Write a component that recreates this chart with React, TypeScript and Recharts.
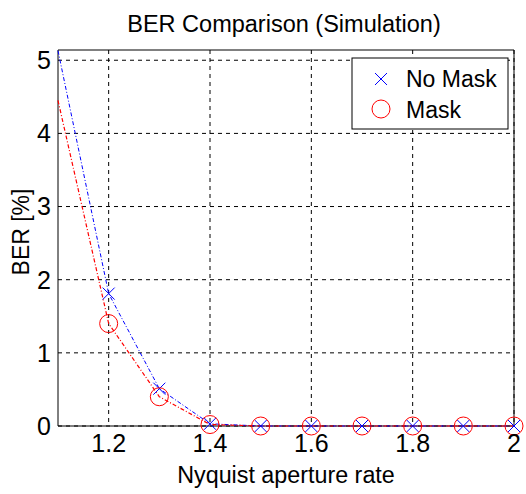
import React from 'react';
import { LineChart, Line, XAxis, YAxis, CartesianGrid, ReferenceArea } from 'recharts';

const rates = [1.1, 1.2, 1.3, 1.4, 1.5, 1.6, 1.7, 1.8, 1.9, 2.0];
const noMask = [5.13, 1.81, 0.51, 0.03, 0, 0, 0, 0, 0, 0];
const mask = [4.45, 1.40, 0.40, 0.02, 0, 0, 0, 0, 0, 0];
const xTicks = [1.2, 1.4, 1.6, 1.8, 2];
const yTicks = [0, 1, 2, 3, 4, 5];
const seriesNames = ['No Mask', 'Mask'];

const data = rates.map((r, i) => ({ rate: r, noMask: noMask[i], mask: mask[i] }));

const FONT = 'Arial, "Liberation Sans", sans-serif';
const BLUE = '#0000ff';
const RED = '#ff0000';

// the reference shows no marker on the left axis edge (first point)
const CrossDot = (props: any) => {
  const { cx, cy, index } = props;
  if (cx == null || cy == null || index === 0) return null;
  const s = 6;
  return (
    <g>
      <line x1={cx - s} y1={cy - s} x2={cx + s} y2={cy + s} stroke={BLUE} strokeWidth={1} />
      <line x1={cx - s} y1={cy + s} x2={cx + s} y2={cy - s} stroke={BLUE} strokeWidth={1} />
    </g>
  );
};

const CircleDot = (props: any) => {
  const { cx, cy, index } = props;
  if (cx == null || cy == null || index === 0) return null;
  return <circle cx={cx} cy={cy} r={9} fill="none" stroke={RED} strokeWidth={1} />;
};

const LegendBox = () => (
  <g>
    <rect x={352} y={58} width={156} height={71} fill="#fff" stroke="#000" strokeWidth={1} />
    <line x1={375} y1={73} x2={387} y2={85} stroke={BLUE} strokeWidth={1} />
    <line x1={375} y1={85} x2={387} y2={73} stroke={BLUE} strokeWidth={1} />
    <circle cx={381} cy={109} r={9} fill="none" stroke={RED} strokeWidth={1} />
    <text x={406} y={87} fontFamily={FONT} fontSize={23} fill="#000">{seriesNames[0]}</text>
    <text x={406} y={118} fontFamily={FONT} fontSize={23} fill="#000">{seriesNames[1]}</text>
  </g>
);

export default function App() {
  return (
    <div style={{ position: 'absolute', left: 0, top: 0, width: 526, height: 494, background: '#fff' }}>
      <LineChart
        width={526}
        height={494}
        data={data}
        margin={{ top: 50, right: 12, bottom: 38, left: 0 }}
        style={{ fontFamily: FONT }}
      >
        <text x={284} y={32} textAnchor="middle" fontFamily={FONT} fontSize={23.5} fill="#000">
          BER Comparison (Simulation)
        </text>
        <text x={286} y={483} textAnchor="middle" fontFamily={FONT} fontSize={23.3} fill="#000">
          Nyquist aperture rate
        </text>
        <text x={29} y={232} textAnchor="middle" fontFamily={FONT} fontSize={23} fill="#000" transform="rotate(-90 29 232)">
          BER [%]
        </text>
        <CartesianGrid stroke="#000" strokeDasharray="4 4" strokeWidth={1} verticalValues={xTicks} horizontalValues={yTicks} />
        <ReferenceArea x1={1.1} x2={2} y1={0} y2={5.14} fill="none" stroke="#000" strokeWidth={1} ifOverflow="visible" />
        <XAxis
          dataKey="rate"
          type="number"
          domain={[1.1, 2]}
          ticks={xTicks}
          height={30}
          tickFormatter={(v: number) => (v === 2 ? '2' : v.toFixed(1))}
          tickLine={false}
          axisLine={false}
          tick={{ fill: '#000', fontSize: 25, fontFamily: FONT }}
          tickMargin={2}
        />
        <YAxis
          type="number"
          domain={[0, 5.14]}
          ticks={yTicks}
          width={58}
          tickLine={false}
          axisLine={false}
          tick={{ fill: '#000', fontSize: 25, fontFamily: FONT }}
          tickMargin={1}
        />
        <Line
          dataKey="noMask"
          name={seriesNames[0]}
          stroke={BLUE}
          strokeWidth={1}
          strokeDasharray="4 2 1 2"
          dot={<CrossDot />}
          activeDot={false}
          isAnimationActive={false}
        />
        <Line
          dataKey="mask"
          name={seriesNames[1]}
          stroke={RED}
          strokeWidth={1.2}
          strokeDasharray="4 2 1 2"
          dot={<CircleDot />}
          activeDot={false}
          isAnimationActive={false}
        />
        <LegendBox />
      </LineChart>
    </div>
  );
}
